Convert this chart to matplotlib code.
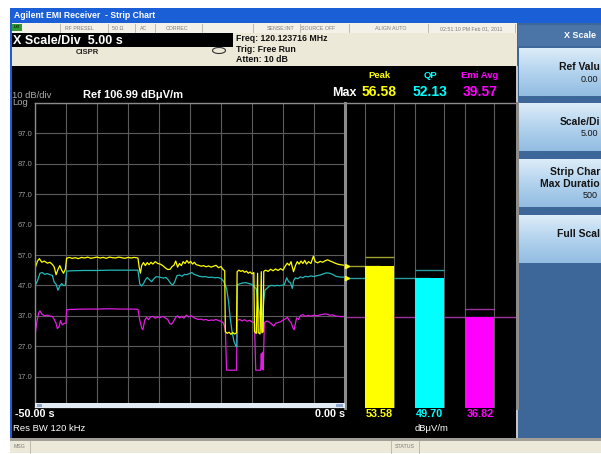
import matplotlib
matplotlib.use("Agg")
import matplotlib.pyplot as plt
from matplotlib.patches import Rectangle, Arc
from matplotlib.colors import LinearSegmentedColormap
import numpy as np

plt.rcParams['font.family'] = ['Liberation Sans', 'DejaVu Sans']

# scale settings of the strip chart
ref_level = 106.99
db_per_div = 10
time_span = (-50.0, 0.0)
sec_per_div = 5

# detectors shown in the meter panel
detectors = ['Peak', 'QP', 'Emi Avg']
det_colors = ['#ffff00', '#00ffff', '#ff00ff']
trace_colors = ['#ffff00', '#25b8b8', '#e01ee0']
max_colors = ['#a0a030', '#2a9a9a', '#a030a0']
max_values = [56.58, 52.13, 39.57]
cur_values = [53.58, 49.70, 36.82]

# traces (time s, level dBuV/m)
peak_trace = [
    (-50.0, 52.5), (-49.6, 55.0), (-49.3, 55.8), (-48.9, 54.6), (-48.5, 55.0),
    (-48.0, 54.3), (-47.6, 54.6), (-47.2, 53.9), (-46.9, 53.0), (-46.6, 50.5),
    (-46.3, 52.2), (-46.0, 53.5), (-45.7, 52.0), (-45.4, 51.0), (-45.1, 52.3),
    (-44.9, 55.9), (-44.5, 56.2), (-44.0, 55.9), (-43.5, 56.1), (-43.0, 55.8),
    (-42.5, 56.2), (-42.0, 56.0), (-41.5, 56.3), (-41.0, 55.9), (-40.5, 56.1),
    (-40.0, 56.3), (-39.5, 56.0), (-39.0, 56.2), (-38.5, 55.9), (-38.0, 56.3),
    (-37.5, 56.1), (-37.0, 56.0), (-36.5, 56.3), (-36.0, 56.1), (-35.5, 55.9),
    (-35.0, 56.2), (-34.5, 56.0), (-34.0, 56.2), (-33.4, 56.0), (-33.2, 53.0),
    (-33.0, 51.0), (-32.8, 53.5), (-32.5, 54.5), (-32.2, 53.5), (-31.9, 54.5),
    (-31.6, 53.8), (-31.3, 54.6), (-31.0, 54.0), (-30.6, 54.8), (-30.2, 54.2),
    (-29.8, 54.0), (-29.4, 53.5), (-29.0, 52.8), (-28.6, 52.2), (-28.2, 52.3),
    (-27.9, 53.2), (-27.6, 53.6), (-27.3, 55.0), (-27.0, 53.0), (-26.7, 54.2),
    (-26.4, 53.5), (-26.1, 54.8), (-25.8, 54.2), (-25.5, 55.2), (-25.2, 54.3),
    (-24.9, 54.9), (-24.6, 54.0), (-24.3, 54.6), (-24.0, 53.8), (-23.6, 53.6),
    (-23.2, 53.3), (-22.8, 53.5), (-22.4, 53.1), (-22.0, 53.4), (-21.6, 53.0),
    (-21.2, 53.3), (-20.8, 53.6), (-20.4, 52.8), (-20.0, 53.2), (-19.7, 52.3),
    (-19.4, 51.8), (-19.3, 31.8), (-19.0, 31.2), (-18.7, 31.6), (-18.4, 30.9),
    (-18.1, 31.5), (-17.8, 31.0), (-17.5, 31.4), (-17.4, 51.5), (-17.1, 52.0),
    (-16.8, 51.6), (-16.5, 51.9), (-16.2, 51.3), (-15.9, 51.7), (-15.6, 51.0),
    (-15.3, 51.4), (-15.0, 50.8), (-14.7, 51.2), (-14.6, 31.8), (-14.3, 31.2),
    (-14.1, 51.0), (-14.0, 31.5), (-13.7, 31.0), (-13.5, 51.5), (-13.4, 31.4),
    (-13.2, 31.8), (-13.1, 51.6), (-12.8, 52.0), (-12.4, 51.6), (-12.0, 52.3),
    (-11.6, 51.8), (-11.2, 52.4), (-10.8, 51.9), (-10.4, 52.5), (-10.0, 52.0),
    (-9.6, 53.5), (-9.3, 54.3), (-9.0, 53.6), (-8.7, 54.8), (-8.5, 53.0),
    (-8.3, 51.5), (-8.0, 53.5), (-7.7, 54.8), (-7.4, 54.0), (-7.1, 55.0),
    (-6.8, 54.2), (-6.5, 55.2), (-6.2, 54.0), (-5.9, 54.8), (-5.5, 54.2),
    (-5.1, 56.6), (-4.8, 54.8), (-4.4, 54.4), (-4.0, 54.9), (-3.6, 54.6),
    (-3.2, 55.1), (-2.8, 55.4), (-2.4, 55.0), (-2.0, 54.7), (-1.6, 54.3),
    (-1.2, 54.0), (-0.8, 53.8), (-0.4, 53.7), (0.0, 53.58),
]

qp_trace = [
    (-50.0, 46.9), (-49.6, 48.5), (-49.2, 51.0), (-48.8, 51.2), (-48.4, 50.6),
    (-48.0, 50.9), (-47.6, 50.5), (-47.2, 50.3), (-46.9, 48.0), (-46.6, 47.4),
    (-46.3, 45.4), (-46.0, 46.8), (-45.7, 47.6), (-45.4, 46.9), (-45.1, 47.0),
    (-44.9, 51.7), (-44.0, 51.8), (-42.0, 51.9), (-40.0, 51.9), (-38.0, 52.0),
    (-36.0, 52.0), (-34.0, 52.0), (-33.4, 52.0), (-33.1, 47.5), (-32.8, 46.8),
    (-32.5, 47.6), (-32.2, 48.8), (-31.9, 49.6), (-31.6, 49.0), (-31.2, 48.2),
    (-30.9, 49.0), (-30.5, 49.8), (-30.1, 49.8), (-29.7, 49.6), (-29.3, 49.4),
    (-28.9, 49.6), (-28.5, 48.8), (-28.1, 47.6), (-27.8, 47.1), (-27.5, 48.0),
    (-27.1, 50.2), (-26.7, 50.4), (-26.3, 50.0), (-25.9, 50.6), (-25.5, 50.5),
    (-25.1, 50.9), (-24.7, 51.2), (-24.3, 50.6), (-23.9, 50.3), (-23.5, 50.0),
    (-23.0, 49.8), (-22.5, 49.9), (-22.0, 49.6), (-21.5, 49.7), (-21.0, 49.5),
    (-20.5, 49.6), (-20.0, 49.3), (-19.6, 48.4), (-19.1, 46.0), (-18.8, 42.0),
    (-18.5, 36.0), (-18.2, 31.5), (-17.9, 28.5), (-17.6, 27.0), (-17.45, 26.8),
    (-17.35, 47.2), (-17.0, 47.5), (-16.5, 47.8), (-16.0, 47.9), (-15.5, 47.6),
    (-15.0, 47.3), (-14.6, 46.5), (-14.3, 45.8), (-14.0, 40.0), (-13.7, 37.0),
    (-13.5, 32.0), (-13.3, 36.0), (-13.1, 42.0), (-12.9, 45.5), (-12.6, 46.0),
    (-12.2, 46.8), (-11.8, 47.0), (-11.4, 46.8), (-11.0, 47.0), (-10.6, 46.9),
    (-10.2, 47.0), (-9.8, 47.2), (-9.4, 49.5), (-9.1, 48.2), (-8.8, 47.9),
    (-8.5, 46.0), (-8.3, 48.5), (-8.0, 49.5), (-7.6, 49.2), (-7.2, 49.8),
    (-6.8, 49.5), (-6.4, 50.0), (-6.0, 49.8), (-5.5, 50.1), (-5.0, 49.9),
    (-4.5, 50.2), (-4.0, 50.4), (-3.5, 50.8), (-3.0, 51.1), (-2.5, 51.0),
    (-2.0, 50.6), (-1.5, 50.0), (-1.0, 49.8), (-0.5, 49.7), (0.0, 49.70),
]

avg_trace = [
    (-50.0, 30.5), (-49.7, 35.0), (-49.4, 38.0), (-49.2, 38.6), (-48.9, 37.6),
    (-48.5, 37.0), (-48.0, 37.2), (-47.6, 36.9), (-47.2, 36.8), (-46.9, 35.8),
    (-46.6, 34.5), (-46.4, 32.8), (-46.1, 33.5), (-45.9, 35.4), (-45.6, 34.0),
    (-45.3, 34.5), (-45.0, 34.6), (-44.9, 39.0), (-44.0, 39.1), (-42.0, 39.2),
    (-40.0, 39.2), (-38.0, 39.3), (-36.0, 39.2), (-34.0, 39.2), (-33.4, 39.1),
    (-33.1, 35.5), (-32.8, 33.0), (-32.6, 32.4), (-32.3, 35.5), (-32.0, 36.5),
    (-31.7, 35.7), (-31.4, 36.6), (-31.0, 36.8), (-30.6, 36.2), (-30.2, 36.6),
    (-29.8, 36.4), (-29.4, 36.8), (-29.0, 36.3), (-28.6, 35.8), (-28.3, 34.5),
    (-28.0, 34.2), (-27.7, 35.0), (-27.3, 36.5), (-27.0, 37.0), (-26.7, 36.3),
    (-26.3, 36.7), (-26.0, 36.2), (-25.6, 37.2), (-25.2, 36.6), (-24.8, 37.0),
    (-24.4, 36.4), (-24.0, 36.0), (-23.6, 35.8), (-23.2, 35.9), (-22.8, 35.6),
    (-22.4, 35.8), (-22.0, 35.4), (-21.6, 35.6), (-21.2, 35.5), (-20.8, 35.8),
    (-20.4, 35.4), (-20.0, 35.2), (-19.6, 34.6), (-19.3, 32.5), (-19.1, 19.1),
    (-17.5, 19.1), (-17.4, 35.4), (-17.0, 35.8), (-16.6, 35.3), (-16.2, 35.7),
    (-15.8, 35.2), (-15.4, 35.5), (-15.0, 35.0), (-14.6, 34.8), (-14.4, 19.1),
    (-13.6, 19.1), (-13.5, 24.5), (-13.4, 19.5), (-13.3, 25.0), (-13.2, 19.2),
    (-13.0, 34.8), (-12.6, 35.3), (-12.2, 34.9), (-11.8, 34.2), (-11.5, 33.6),
    (-11.2, 34.5), (-10.8, 34.8), (-10.4, 35.0), (-10.0, 35.6), (-9.6, 36.0),
    (-9.3, 36.5), (-9.0, 35.4), (-8.7, 34.8), (-8.4, 33.0), (-8.2, 32.4),
    (-8.0, 34.5), (-7.8, 36.3), (-7.5, 35.8), (-7.2, 37.0), (-6.8, 37.4),
    (-6.4, 36.8), (-6.0, 37.1), (-5.5, 36.9), (-5.0, 37.2), (-4.5, 37.0),
    (-4.0, 37.3), (-3.5, 37.5), (-3.0, 37.6), (-2.5, 37.2), (-2.0, 37.3),
    (-1.5, 36.9), (-1.0, 36.8), (-0.5, 36.7), (0.0, 36.82),
]

status_items = [('RF PRESEL', 79), ('50 Ω', 118), ('AC', 144), ('CORREC', 177),
                ('SENSE:INT', 281), ('SOURCE OFF', 318), ('ALIGN AUTO', 391),
                ('02:51:10 PM Feb 01, 2011', 471)]
status_seps = [60, 108, 135, 155, 202, 253, 300, 349, 428, 515]
# soft key labels as far as they show on the screen
softkeys = [('Ref Valu', '0.00'), ('Scale/Di', '5.00'),
            ('Strip Char\nMax Duratio', '500'), ('Full Scal', '')]

W, H = 601, 454
fig = plt.figure(figsize=(W / 100, H / 100), dpi=100)
fig.patch.set_facecolor('white')

# screen chrome drawn in pixel units
ui = fig.add_axes([0, 0, 1, 1], label='ui')
ui.axis('off')


def box(ax, x0, y0, x1, y1, color, **kw):
    ax.add_patch(Rectangle((x0, y0), x1 - x0, y1 - y0, facecolor=color,
                           edgecolor='none', **kw))


def label(ax, x, y, s, size, color='black', ha='left', weight='normal'):
    ax.text(x, y, s, fontsize=size, color=color, ha=ha, va='center',
            fontweight=weight)


box(ui, 10, 8, W, 23, '#1a5fd6')
label(ui, 14, 15.5, 'Agilent EMI Receiver  - Strip Chart', 6.2, 'white', weight='bold')
box(ui, 10, 8, 12, 441, '#1a5fd6')

box(ui, 12, 23, 517, 33, '#f3f1e8')
for sx in status_seps:
    ui.plot([sx, sx], [24, 32], color='#b4b2a6', lw=0.6)
box(ui, 12, 24, 22, 31, '#2f9a2f')
label(ui, 17, 27.5, 'LXI', 2.8, '#102010', ha='center', weight='bold')
for txt, sx in status_items:
    label(ui, sx, 28.5, txt, 3.8, '#7a7a7a', ha='center')

box(ui, 12, 33, 233, 47, 'black')
label(ui, 13, 40.5, 'X Scale/Div  5.00 s', 9, 'white', weight='bold')
box(ui, 12, 47, 233, 66, '#ece9d8')
label(ui, 87, 52.5, 'CISPR', 5.5, '#222222', ha='center', weight='bold')
ui.add_patch(Arc((219, 50.5), 13, 6, color='#333333', lw=0.8))
box(ui, 233, 33, 517, 66, '#ece9d8')
label(ui, 236, 38.5, 'Freq: 120.123716 MHz', 6.3, '#111111', weight='bold')
label(ui, 236, 49, 'Trig: Free Run', 6.3, '#111111', weight='bold')
label(ui, 236, 60, 'Atten: 10 dB', 6.3, '#111111', weight='bold')

box(ui, 12, 66, 517, 438, 'black')
box(ui, 10, 438, W, 441, '#a19f97')
box(ui, 10, 441, W, 453, '#ece9d8')
for sx in [30, 391, 419]:
    ui.plot([sx, sx], [441, 453], color='#b4b2a6', lw=0.6)
label(ui, 14, 447, 'MSG', 3.8, '#7a7a7a')
label(ui, 405, 447, 'STATUS', 3.8, '#7a7a7a', ha='center')

# soft key panel
box(ui, 517, 23, W, 438, '#3d6799')
box(ui, 516, 66, 518, 438, '#c4c4c4')
box(ui, 518, 25, W, 46, '#4a75a6')
label(ui, 564, 35.5, 'X Scale', 6.5, 'white', weight='bold')
key_cmap = LinearSegmentedColormap.from_list('key', ['#dcecf8', '#b3d3ee', '#93bde2'])
key_tops = [48, 103, 159, 215]
for top, (name, val) in zip(key_tops, softkeys):
    ui.imshow(np.linspace(0, 1, 40)[:, None], cmap=key_cmap, aspect='auto',
              extent=(519, W, top + 48, top), zorder=1)
    lines = name.split('\n')
    if len(lines) == 1:
        label(ui, 600, top + 19, name, 7.5, '#141414', ha='right', weight='bold')
        label(ui, 598, top + 31, val, 6.5, '#141414', ha='right')
    else:
        label(ui, 600, top + 13, lines[0], 7.5, '#141414', ha='right', weight='bold')
        label(ui, 600, top + 25, lines[1], 7.5, '#141414', ha='right', weight='bold')
        label(ui, 598, top + 36, val, 6.5, '#141414', ha='right')
ui.set_xlim(0, W)
ui.set_ylim(H, 0)

# annotations in the black area
label(ui, 12, 95, '10 dB/div', 6.8, '#a8a8a8')
label(ui, 12, 102.5, 'Log', 6.8, '#a8a8a8')
label(ui, 83, 95, 'Ref 106.99 dBμV/m', 8, 'white', weight='bold')
label(ui, 357, 92.5, 'Max', 9, 'white', ha='right', weight='bold')
bar_px = [379.5, 430, 480]
for cx, name, col, mx, cur in zip(bar_px, detectors, det_colors, max_values, cur_values):
    label(ui, cx, 76, name, 6.8, col, ha='center', weight='bold')
    label(ui, cx, 92.5, f'{mx:.2f}', 10, col, ha='center', weight='bold')
    label(ui, cx, 414, f'{cur:.2f}', 7.8, col, ha='center', weight='bold')
label(ui, 432, 428.5, 'dBμV/m', 6.8, 'white', ha='center')
label(ui, 15, 414, f'{time_span[0]:.2f} s', 7.8, 'white', weight='bold')
label(ui, 345, 414, f'{time_span[1]:.2f} s', 7.8, 'white', ha='right', weight='bold')
label(ui, 13, 428.5, 'Res BW 120 kHz', 6.8, 'white')

y_bottom = ref_level - 10 * db_per_div
grid_col = '#5c5c5c'
frame_col = '#8c8c8c'

# strip chart
ax = fig.add_axes([35 / W, 1 - 407 / H, 310 / W, 304 / H], label='strip')
ax.set_facecolor('black')
ax.set_xlim(*time_span)
ax.set_ylim(y_bottom, ref_level)
ax.set_xticks(np.arange(time_span[0], time_span[1] + 0.1, sec_per_div))
yt = ref_level - db_per_div * np.arange(11)
ax.set_yticks(yt)
ax.set_yticklabels([f'{v:.1f}' if 0 < k < 10 else '' for k, v in enumerate(yt)])
ax.grid(True, color=grid_col, lw=0.8)
ax.set_axisbelow(True)
ax.tick_params(length=0, labelbottom=False, labelsize=5.5, labelcolor='#9a9a9a', pad=2)
for sp in ax.spines.values():
    sp.set_color(frame_col)
    sp.set_linewidth(1)
for trace, col in zip([avg_trace, qp_trace, peak_trace], trace_colors[::-1]):
    t, v = zip(*trace)
    ax.plot(t, v, color=col, lw=0.9)

# meter bars
bx = fig.add_axes([345 / W, 1 - 408 / H, 172 / W, 305 / H], label='bars')
bx.set_facecolor('black')
pos = np.arange(len(detectors))
half = 0.29
bx.set_xlim(-0.69, 2.75)
bx.set_ylim(y_bottom, ref_level)
bx.set_xticks(np.concatenate([pos - half, pos + half]))
bx.set_yticks([])
bx.grid(axis='x', color=grid_col, lw=0.8)
bx.set_axisbelow(True)
bx.tick_params(length=0, labelbottom=False)
for side, sp in bx.spines.items():
    sp.set_color(frame_col)
    sp.set_linewidth(2.2 if side in ('left', 'right') else 1)
bx.spines['bottom'].set_visible(False)
line_ends = [pos[0], pos[1], 2.75]
bx.hlines(cur_values, -0.69, line_ends, colors=max_colors, lw=1, zorder=2)
bx.bar(pos, [c - y_bottom for c in cur_values], bottom=y_bottom, width=2 * half,
       color=det_colors, zorder=3)
bx.hlines(max_values, pos - half, pos + half, colors=max_colors, lw=1, zorder=3)
bx.plot([-0.66, -0.66], cur_values[:2], ls='none', marker='>', ms=3,
        color=det_colors[0], clip_on=False, zorder=4)

# scroll strip at the foot of the strip chart
top = fig.add_axes([0, 0, 1, 1], label='overlay')
top.axis('off')
top.patch.set_alpha(0)
box(top, 35, 403, 345, 408, '#e2eaf3')
box(top, 37, 404, 42, 407, '#8fa8cc')
box(top, 336, 404, 343, 407, '#8fa8cc')
top.set_xlim(0, W)
top.set_ylim(H, 0)

fig.savefig('out.png', dpi=100)
